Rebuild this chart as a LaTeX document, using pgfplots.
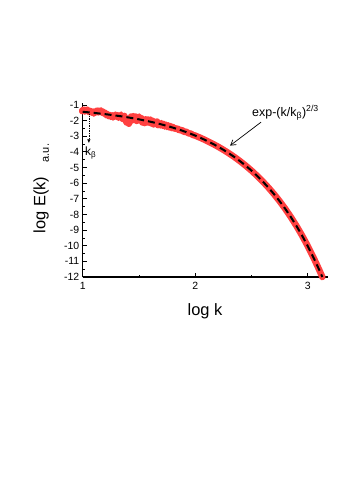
\documentclass[border=0pt]{standalone}
\usepackage{fontspec}
\setmainfont{Liberation Sans}
\usepackage{pgfplots}
\pgfplotsset{compat=1.18}
\usetikzlibrary{arrows.meta}
\begin{document}
\begin{tikzpicture}
\useasboundingbox (0,0) rectangle (349bp,-500bp);
\begin{axis}[
  at={(82.7bp,-277bp)}, anchor=south west,
  scale only axis, width=245.3bp, height=174bp,
  xmin=1, xmax=3.18, ymin=-12, ymax=-0.875,
  axis x line*=bottom, axis y line*=left,
  axis line style={line width=1.1bp, -},
  xtick={1,2,3}, ytick={-12,-11,...,-1},
  minor x tick num=1, minor y tick num=1,
  tick align=inside, major tick length=4bp, minor tick length=2.5bp,
  tick style={black, line width=0.8bp},
  ticklabel style={font=\fontsize{10.5}{12}\selectfont},
  /pgf/number format/assume math mode=true,
  xticklabel style={yshift=-2bp},
  clip=false,
]
% red noisy data
\addplot[color={rgb,255:red,255;green,64;blue,64}, line width=6.5bp, line join=round, line cap=round] coordinates {
(0.995,-1.40)(1.00,-1.33)(1.01,-1.30)(1.02,-1.42)(1.03,-1.34)(1.04,-1.30)(1.05,-1.40)(1.06,-1.46)(1.07,-1.38)(1.08,-1.49)(1.09,-1.42)
(1.10,-1.55)(1.11,-1.45)(1.12,-1.40)(1.13,-1.36)(1.14,-1.48)(1.15,-1.40)(1.16,-1.35)(1.17,-1.49)(1.18,-1.42)(1.19,-1.55)
(1.20,-1.50)(1.21,-1.66)(1.22,-1.58)(1.23,-1.72)(1.24,-1.64)(1.25,-1.76)(1.26,-1.66)(1.27,-1.80)(1.28,-1.70)(1.29,-1.62)
(1.30,-1.76)(1.31,-1.65)(1.32,-1.82)(1.33,-1.72)(1.34,-1.62)(1.35,-1.84)(1.36,-1.92)(1.37,-1.70)(1.38,-1.96)(1.39,-2.12)
(1.40,-1.90)(1.41,-2.20)(1.42,-2.04)(1.43,-1.74)(1.44,-1.98)(1.45,-1.72)(1.46,-1.95)(1.47,-1.74)(1.48,-2.02)(1.49,-1.84)
(1.50,-1.74)(1.51,-1.98)(1.52,-1.84)(1.53,-2.12)(1.54,-1.92)(1.55,-2.16)(1.56,-1.92)(1.57,-2.12)(1.58,-1.93)(1.59,-2.13)
(1.60,-1.94)(1.61,-2.18)(1.62,-2.01)(1.63,-2.24)(1.64,-2.07)(1.65,-2.22)(1.66,-2.06)(1.67,-2.29)(1.68,-2.15)(1.69,-2.31)
(1.70,-2.16)(1.71,-2.33)(1.72,-2.21)(1.73,-2.38)(1.74,-2.26)(1.75,-2.41)(1.76,-2.30)(1.77,-2.44)(1.78,-2.35)(1.79,-2.48)
(1.80,-2.40)(1.82,-2.54)(1.84,-2.49)(1.86,-2.63)(1.88,-2.59)(1.90,-2.72)(1.92,-2.71)(1.94,-2.81)(1.96,-2.83)(1.98,-2.92)
(2.00,-2.96)(2.05,-3.113)(2.10,-3.281)(2.15,-3.461)(2.20,-3.656)(2.25,-3.866)(2.30,-4.094)(2.35,-4.338)(2.40,-4.603)
(2.45,-4.889)(2.50,-5.198)(2.55,-5.531)(2.60,-5.891)(2.65,-6.279)(2.70,-6.699)(2.75,-7.152)(2.80,-7.640)(2.85,-8.169)
(2.90,-8.739)(2.95,-9.355)(3.00,-10.020)(3.05,-10.738)(3.10,-11.513)(3.13,-12.0)
};
% fit curve
\addplot[black, line width=2bp, dash pattern=on 7bp off 4bp] coordinates {
(1.00,-1.438)(1.05,-1.471)(1.10,-1.507)(1.15,-1.546)(1.20,-1.588)(1.25,-1.633)(1.30,-1.682)(1.35,-1.735)
(1.40,-1.792)(1.45,-1.853)(1.50,-1.920)(1.55,-1.992)(1.60,-2.069)(1.65,-2.153)(1.70,-2.243)(1.75,-2.341)
(1.80,-2.447)(1.85,-2.560)(1.90,-2.683)(1.95,-2.816)(2.00,-2.959)(2.05,-3.113)(2.10,-3.281)(2.15,-3.461)
(2.20,-3.656)(2.25,-3.866)(2.30,-4.094)(2.35,-4.338)(2.40,-4.603)(2.45,-4.889)(2.50,-5.198)(2.55,-5.531)
(2.60,-5.891)(2.65,-6.279)(2.70,-6.699)(2.75,-7.152)(2.80,-7.640)(2.85,-8.169)(2.90,-8.739)(2.95,-9.355)
(3.00,-10.020)(3.05,-10.738)(3.10,-11.513)(3.13,-12.0)
};
\draw[densely dotted, line width=0.7bp, -{Latex[length=4bp,width=3.5bp]}] (axis cs:1.055,-1.6) -- (axis cs:1.055,-3.45);
\node[anchor=west, inner sep=0, font=\fontsize{12}{14}\selectfont] at (axis cs:1.02,-4.05) {k\textsubscript{β}};
\draw[line width=0.7bp, -{Straight Barb[length=5bp,width=6bp]}] (axis cs:2.585,-2.1) -- (axis cs:2.31,-3.6);
\node[anchor=base west, inner sep=0, font=\fontsize{12.5}{14}\selectfont] at (axis cs:2.505,-1.72) {exp-(k/k\textsubscript{β})\textsuperscript{2/3}};
\end{axis}
\node[rotate=90, font=\fontsize{16.5}{18}\selectfont] at (41bp,-205bp) {log E(k)};
\node[rotate=90, font=\fontsize{11}{13}\selectfont] at (46bp,-153bp) {a.u.};
\node[font=\fontsize{16.5}{18}\selectfont] at (205bp,-311bp) {log k};
\end{tikzpicture}
\end{document}
